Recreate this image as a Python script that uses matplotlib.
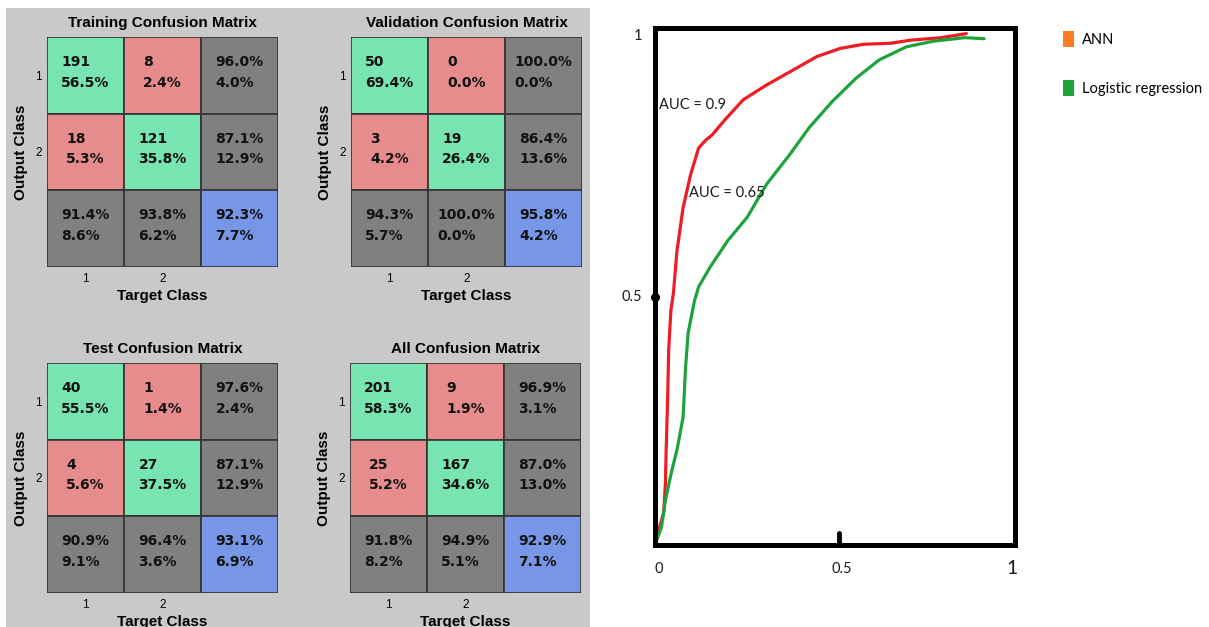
import matplotlib.pyplot as plt
from matplotlib.patches import Rectangle, Patch

# confusion matrix values as printed in the figure
train_counts = [[191, 8], [18, 121]]
train_pct = [[56.5, 2.4], [5.3, 35.8]]
train_row = [96.0, 87.1]
train_col = [91.4, 93.8]
train_total = 92.3

val_counts = [[50, 0], [3, 19]]
val_pct = [[69.4, 0.0], [4.2, 26.4]]
val_row = [100.0, 86.4]
val_col = [94.3, 100.0]
val_total = 95.8

test_counts = [[40, 1], [4, 27]]
test_pct = [[55.5, 1.4], [5.6, 37.5]]
test_row = [97.6, 87.1]
test_col = [90.9, 96.4]
test_total = 93.1

all_counts = [[201, 9], [25, 167]]
all_pct = [[58.3, 1.9], [5.2, 34.6]]
all_row = [96.9, 87.0]
all_col = [91.8, 94.9]
all_total = 92.9

class_labels = ['1', '2']

# ROC curves
ann_fpr = [0, 0.008, 0.024, 0.029, 0.031, 0.035, 0.038, 0.044, 0.051, 0.061, 0.078,
           0.099, 0.121, 0.140, 0.159, 0.191, 0.245, 0.310, 0.385, 0.450, 0.515, 0.579,
           0.655, 0.709, 0.795, 0.865]
ann_tpr = [0, 0.024, 0.063, 0.122, 0.187, 0.285, 0.383, 0.460, 0.494, 0.578, 0.663,
           0.728, 0.780, 0.795, 0.806, 0.833, 0.875, 0.904, 0.934, 0.960, 0.976, 0.984,
           0.986, 0.992, 0.997, 1.005]
lr_fpr = [0, 0.018, 0.029, 0.045, 0.061, 0.078, 0.085, 0.092, 0.099, 0.110, 0.121,
          0.153, 0.202, 0.256, 0.310, 0.374, 0.428, 0.493, 0.558, 0.622, 0.698,
          0.773, 0.860, 0.914]
lr_tpr = [0, 0.035, 0.088, 0.141, 0.187, 0.251, 0.350, 0.416, 0.442, 0.481, 0.507,
          0.546, 0.598, 0.644, 0.709, 0.767, 0.820, 0.872, 0.917, 0.953, 0.979,
          0.990, 0.997, 0.995]

W, H = 1209, 627
fig = plt.figure(figsize=(W / 100, H / 100), dpi=100)


def box(left, top, w, h):
    return [left / W, 1 - (top + h) / H, w / W, h / H]


# grey matlab panel behind the matrices
fig.add_artist(Rectangle((6 / W, 0), 584 / W, 619 / H, transform=fig.transFigure,
                         facecolor='#c9c9c9', edgecolor='none', zorder=0))

GREEN = '#78e4b2'
RED = '#e68c8c'
GREY = '#808080'
BLUE = '#7896e6'


def draw_matrix(ax, title, counts, pct, row, col, total):
    ax.set_xlim(0, 3)
    ax.set_ylim(3, 0)
    for r in range(3):
        for c in range(3):
            if r < 2 and c < 2:
                color = GREEN if r == c else RED
                txt = f'{counts[r][c]}\n{pct[r][c]:.1f}%'
            elif r == 2 and c == 2:
                color = BLUE
                txt = f'{total:.1f}%\n{100 - total:.1f}%'
            else:
                color = GREY
                v = row[r] if c == 2 else col[c]
                txt = f'{v:.1f}%\n{100 - v:.1f}%'
            ax.add_patch(Rectangle((c, r), 1, 1, facecolor=color, edgecolor='#333333', lw=1.2))
            ax.text(c + 0.5, r + 0.46, txt, ha='center', va='center', multialignment='left',
                    linespacing=1.6, fontsize=10, fontweight='bold', family='DejaVu Sans',
                    color='#111111')
    for s in ax.spines.values():
        s.set_visible(False)
    ax.set_xticks([0.5, 1.5])
    ax.set_xticklabels(class_labels)
    ax.set_yticks([0.5, 1.5])
    ax.set_yticklabels(class_labels)
    ax.tick_params(length=0, labelsize=8.5, pad=4)
    for lab in ax.get_xticklabels() + ax.get_yticklabels():
        lab.set_family('Liberation Sans')
    ax.set_title(title, fontsize=11, fontweight='bold', family='Liberation Sans', pad=7)
    ax.set_xlabel('Target Class', fontsize=11, fontweight='bold', family='Liberation Sans', labelpad=3)
    ax.set_ylabel('Output Class', fontsize=11, fontweight='bold', family='Liberation Sans', labelpad=5)


ax1 = fig.add_axes(box(47, 37, 231, 230))
draw_matrix(ax1, 'Training Confusion Matrix', train_counts, train_pct, train_row, train_col, train_total)
ax2 = fig.add_axes(box(351, 37, 231, 230))
draw_matrix(ax2, 'Validation Confusion Matrix', val_counts, val_pct, val_row, val_col, val_total)
ax3 = fig.add_axes(box(47, 363, 231, 230))
draw_matrix(ax3, 'Test Confusion Matrix', test_counts, test_pct, test_row, test_col, test_total)
ax4 = fig.add_axes(box(350, 363, 231, 230))
draw_matrix(ax4, 'All Confusion Matrix', all_counts, all_pct, all_row, all_col, all_total)

# ROC panel
ax = fig.add_axes(box(655, 28, 360, 517))
ax.set_xlim(0, 1)
ax.set_ylim(0, 1.016)
ax.plot(ann_fpr, ann_tpr, color='#ee1c24', lw=2.3, solid_capstyle='round')
ax.plot(lr_fpr, lr_tpr, color='#1ea33c', lw=2.3, solid_capstyle='round')
for s in ax.spines.values():
    s.set_linewidth(3.6)
    s.set_color('black')
ax.set_xticks([])
ax.set_yticks([])

# hand-drawn tick marks
ax.plot([0], [0.487], marker='o', ms=5.5, color='black', clip_on=False)
ax.plot([0.51, 0.51], [0, 0.024], color='black', lw=3.5, solid_capstyle='round', clip_on=False)

lab_font = dict(family='Lato', color='#1a1a1a')
ax.text(-0.035, 1.0, '1', ha='right', va='center', fontsize=10.5, **lab_font)
ax.text(-0.035, 0.487, '0.5', ha='right', va='center', fontsize=10.5, **lab_font)
ax.text(0.011, -0.047, '0', ha='center', va='center', fontsize=10.5, **lab_font)
ax.text(0.52, -0.047, '0.5', ha='center', va='center', fontsize=10.5, **lab_font)
ax.text(0.992, -0.047, '1', ha='center', va='center', fontsize=14, **lab_font)

ax.text(0.011, 0.864, 'AUC = 0.9', ha='left', va='center', fontsize=10.5, **lab_font)
ax.text(0.094, 0.692, 'AUC = 0.65', ha='left', va='center', fontsize=10.5, **lab_font)

handles = [Patch(facecolor='#ff7a21', edgecolor='none', label='ANN'),
           Patch(facecolor='#1ea33c', edgecolor='none', label='Logistic regression')]
ax.legend(handles=handles, loc='upper left', bbox_to_anchor=(1063 / W, 1 - 31 / H),
          bbox_transform=fig.transFigure, frameon=False, handlelength=0.75, handleheight=1.3,
          handletextpad=0.55, labelspacing=2.3, borderpad=0, borderaxespad=0,
          prop={'family': 'Lato', 'size': 10.5})

fig.savefig('out.png', dpi=100)
